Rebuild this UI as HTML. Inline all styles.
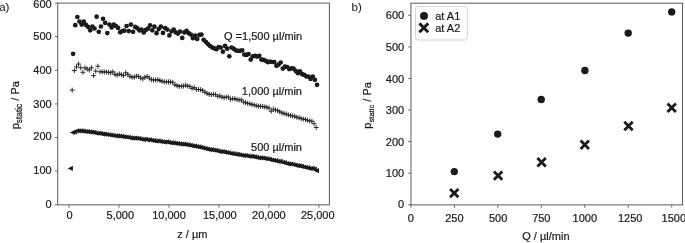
<!DOCTYPE html>
<html><head><meta charset="utf-8"><title>chart</title>
<style>
html,body{margin:0;padding:0;background:#fff;}
body{width:685px;height:243px;overflow:hidden;position:relative;font-family:"Liberation Sans",sans-serif;}
</style></head><body>
<svg width="685" height="243" viewBox="0 0 685 243" style="position:absolute;left:0;top:0;will-change:transform">
<rect x="0" y="0" width="685" height="243" fill="#ffffff"/>
<style>text{stroke:#1c1c1c;stroke-width:0.22px;}</style>
<g font-family="Liberation Sans, sans-serif" font-size="11px" fill="#1c1c1c">
<rect x="57.7" y="3.1" width="271.70" height="201.75" fill="none" stroke="#5a5a5a" stroke-width="1"/>
<line x1="54.90" x2="57.7" y1="204.75" y2="204.75" stroke="#5a5a5a" stroke-width="0.9"/>
<text x="51.70" y="208.10" text-anchor="end">0</text>
<line x1="54.90" x2="57.7" y1="171.13" y2="171.13" stroke="#5a5a5a" stroke-width="0.9"/>
<text x="51.70" y="174.48" text-anchor="end">100</text>
<line x1="54.90" x2="57.7" y1="137.51" y2="137.51" stroke="#5a5a5a" stroke-width="0.9"/>
<text x="51.70" y="140.16" text-anchor="end">200</text>
<line x1="54.90" x2="57.7" y1="103.89" y2="103.89" stroke="#5a5a5a" stroke-width="0.9"/>
<text x="51.70" y="108.04" text-anchor="end">300</text>
<line x1="54.90" x2="57.7" y1="70.27" y2="70.27" stroke="#5a5a5a" stroke-width="0.9"/>
<text x="51.70" y="73.62" text-anchor="end">400</text>
<line x1="54.90" x2="57.7" y1="36.65" y2="36.65" stroke="#5a5a5a" stroke-width="0.9"/>
<text x="51.70" y="40.00" text-anchor="end">500</text>
<line x1="54.90" x2="57.7" y1="3.03" y2="3.03" stroke="#5a5a5a" stroke-width="0.9"/>
<text x="51.70" y="8.18" text-anchor="end">600</text>
<line x1="69.05" x2="69.05" y1="204.85" y2="207.65" stroke="#5a5a5a" stroke-width="0.9"/>
<text x="69.45" y="219.2" text-anchor="middle">0</text>
<line x1="119.01" x2="119.01" y1="204.85" y2="207.65" stroke="#5a5a5a" stroke-width="0.9"/>
<text x="120.31" y="219.2" text-anchor="middle">5,000</text>
<line x1="168.97" x2="168.97" y1="204.85" y2="207.65" stroke="#5a5a5a" stroke-width="0.9"/>
<text x="168.97" y="219.2" text-anchor="middle">10,000</text>
<line x1="218.93" x2="218.93" y1="204.85" y2="207.65" stroke="#5a5a5a" stroke-width="0.9"/>
<text x="219.83" y="219.2" text-anchor="middle">15,000</text>
<line x1="268.89" x2="268.89" y1="204.85" y2="207.65" stroke="#5a5a5a" stroke-width="0.9"/>
<text x="268.89" y="219.2" text-anchor="middle">20,000</text>
<line x1="318.85" x2="318.85" y1="204.85" y2="207.65" stroke="#5a5a5a" stroke-width="0.9"/>
<text x="317.75" y="219.2" text-anchor="middle">25,000</text>
<text x="192.4" y="237.6" text-anchor="middle">z / µm</text>
<text transform="translate(19.3,105.2) rotate(-90)" text-anchor="middle">p<tspan font-size="8.3px" dy="2.7">static</tspan><tspan dy="-2.7"> / Pa</tspan></text>
<text x="-0.8" y="10.9" font-size="11.5px" style="stroke-width:0.08px">a)</text>
<text x="302.2" y="39.5" text-anchor="end">Q =1,500 µl/min</text>
<text x="302.0" y="94.6" text-anchor="end">1,000 µl/min</text>
<text x="302.0" y="150.6" text-anchor="end">500 µl/min</text>
<g fill="#1a1a1a">
<path d="M67.70 168.40L72.90 165.80L72.90 171.00Z"/>
<path d="M69.84 132.49L75.04 129.89L75.04 135.09Z"/>
<path d="M71.98 131.83L77.18 129.23L77.18 134.43Z"/>
<path d="M74.12 130.80L79.32 128.20L79.32 133.40Z"/>
<path d="M76.26 130.85L81.46 128.25L81.46 133.45Z"/>
<path d="M78.40 130.88L83.60 128.28L83.60 133.48Z"/>
<path d="M80.54 131.19L85.74 128.59L85.74 133.79Z"/>
<path d="M82.68 131.52L87.88 128.92L87.88 134.12Z"/>
<path d="M84.82 131.71L90.02 129.11L90.02 134.31Z"/>
<path d="M86.96 131.91L92.16 129.31L92.16 134.51Z"/>
<path d="M89.10 132.17L94.30 129.57L94.30 134.77Z"/>
<path d="M91.24 132.43L96.44 129.83L96.44 135.03Z"/>
<path d="M93.38 133.08L98.58 130.48L98.58 135.68Z"/>
<path d="M95.52 133.25L100.72 130.65L100.72 135.85Z"/>
<path d="M97.66 133.42L102.86 130.82L102.86 136.02Z"/>
<path d="M99.80 134.10L105.00 131.50L105.00 136.70Z"/>
<path d="M101.94 134.12L107.14 131.52L107.14 136.72Z"/>
<path d="M104.08 134.50L109.28 131.90L109.28 137.10Z"/>
<path d="M106.22 134.76L111.42 132.16L111.42 137.36Z"/>
<path d="M108.36 135.22L113.56 132.62L113.56 137.82Z"/>
<path d="M110.50 135.49L115.70 132.89L115.70 138.09Z"/>
<path d="M112.64 135.78L117.84 133.18L117.84 138.38Z"/>
<path d="M114.78 135.90L119.98 133.30L119.98 138.50Z"/>
<path d="M116.92 136.20L122.12 133.60L122.12 138.80Z"/>
<path d="M119.06 136.47L124.26 133.87L124.26 139.07Z"/>
<path d="M121.20 136.80L126.40 134.20L126.40 139.40Z"/>
<path d="M123.34 136.99L128.54 134.39L128.54 139.59Z"/>
<path d="M125.48 137.26L130.68 134.66L130.68 139.86Z"/>
<path d="M127.62 137.92L132.82 135.32L132.82 140.52Z"/>
<path d="M129.76 138.18L134.96 135.58L134.96 140.78Z"/>
<path d="M131.90 138.05L137.10 135.45L137.10 140.65Z"/>
<path d="M134.04 138.23L139.24 135.63L139.24 140.83Z"/>
<path d="M136.18 138.58L141.38 135.98L141.38 141.18Z"/>
<path d="M138.32 139.08L143.52 136.48L143.52 141.68Z"/>
<path d="M140.46 139.38L145.66 136.78L145.66 141.98Z"/>
<path d="M142.60 139.26L147.80 136.66L147.80 141.86Z"/>
<path d="M144.74 139.79L149.94 137.19L149.94 142.39Z"/>
<path d="M146.88 139.76L152.08 137.16L152.08 142.36Z"/>
<path d="M149.02 140.28L154.22 137.68L154.22 142.88Z"/>
<path d="M151.16 140.61L156.36 138.01L156.36 143.21Z"/>
<path d="M153.30 141.04L158.50 138.44L158.50 143.64Z"/>
<path d="M155.44 140.94L160.64 138.34L160.64 143.54Z"/>
<path d="M157.58 141.47L162.78 138.87L162.78 144.07Z"/>
<path d="M159.72 141.76L164.92 139.16L164.92 144.36Z"/>
<path d="M161.86 142.06L167.06 139.46L167.06 144.66Z"/>
<path d="M164.00 141.87L169.20 139.27L169.20 144.47Z"/>
<path d="M166.14 142.38L171.34 139.78L171.34 144.98Z"/>
<path d="M168.28 142.91L173.48 140.31L173.48 145.51Z"/>
<path d="M170.42 142.89L175.62 140.29L175.62 145.49Z"/>
<path d="M172.56 143.37L177.76 140.77L177.76 145.97Z"/>
<path d="M174.70 143.51L179.90 140.91L179.90 146.11Z"/>
<path d="M176.84 143.89L182.04 141.29L182.04 146.49Z"/>
<path d="M178.98 144.07L184.18 141.47L184.18 146.67Z"/>
<path d="M181.12 144.17L186.32 141.57L186.32 146.77Z"/>
<path d="M183.26 144.53L188.46 141.93L188.46 147.13Z"/>
<path d="M185.40 144.87L190.60 142.27L190.60 147.47Z"/>
<path d="M187.54 145.26L192.74 142.66L192.74 147.86Z"/>
<path d="M189.68 145.95L194.88 143.35L194.88 148.55Z"/>
<path d="M191.82 146.11L197.02 143.51L197.02 148.71Z"/>
<path d="M193.96 146.57L199.16 143.97L199.16 149.17Z"/>
<path d="M196.10 146.90L201.30 144.30L201.30 149.50Z"/>
<path d="M198.24 147.42L203.44 144.82L203.44 150.02Z"/>
<path d="M200.38 148.02L205.58 145.42L205.58 150.62Z"/>
<path d="M202.52 148.59L207.72 145.99L207.72 151.19Z"/>
<path d="M204.66 149.10L209.86 146.50L209.86 151.70Z"/>
<path d="M206.80 149.57L212.00 146.97L212.00 152.17Z"/>
<path d="M208.94 149.63L214.14 147.03L214.14 152.23Z"/>
<path d="M211.08 150.16L216.28 147.56L216.28 152.76Z"/>
<path d="M213.22 150.39L218.42 147.79L218.42 152.99Z"/>
<path d="M215.36 151.04L220.56 148.44L220.56 153.64Z"/>
<path d="M217.50 151.56L222.70 148.96L222.70 154.16Z"/>
<path d="M219.64 151.58L224.84 148.98L224.84 154.18Z"/>
<path d="M221.78 152.04L226.98 149.44L226.98 154.64Z"/>
<path d="M223.92 152.52L229.12 149.92L229.12 155.12Z"/>
<path d="M226.06 152.85L231.26 150.25L231.26 155.45Z"/>
<path d="M228.20 153.51L233.40 150.91L233.40 156.11Z"/>
<path d="M230.34 153.68L235.54 151.08L235.54 156.28Z"/>
<path d="M232.48 154.15L237.68 151.55L237.68 156.75Z"/>
<path d="M234.62 154.40L239.82 151.80L239.82 157.00Z"/>
<path d="M236.76 154.77L241.96 152.17L241.96 157.37Z"/>
<path d="M238.90 155.27L244.10 152.67L244.10 157.87Z"/>
<path d="M241.04 155.60L246.24 153.00L246.24 158.20Z"/>
<path d="M243.18 155.51L248.38 152.91L248.38 158.11Z"/>
<path d="M245.32 156.20L250.52 153.60L250.52 158.80Z"/>
<path d="M247.46 156.27L252.66 153.67L252.66 158.87Z"/>
<path d="M249.60 156.46L254.80 153.86L254.80 159.06Z"/>
<path d="M251.74 156.91L256.94 154.31L256.94 159.51Z"/>
<path d="M253.88 157.29L259.08 154.69L259.08 159.89Z"/>
<path d="M256.02 157.83L261.22 155.23L261.22 160.43Z"/>
<path d="M258.16 157.85L263.36 155.25L263.36 160.45Z"/>
<path d="M260.30 157.98L265.50 155.38L265.50 160.58Z"/>
<path d="M262.44 158.72L267.64 156.12L267.64 161.32Z"/>
<path d="M264.58 158.75L269.78 156.15L269.78 161.35Z"/>
<path d="M266.72 159.38L271.92 156.78L271.92 161.98Z"/>
<path d="M268.86 160.02L274.06 157.42L274.06 162.62Z"/>
<path d="M271.00 160.31L276.20 157.71L276.20 162.91Z"/>
<path d="M273.14 160.72L278.34 158.12L278.34 163.32Z"/>
<path d="M275.28 161.35L280.48 158.75L280.48 163.95Z"/>
<path d="M277.42 161.42L282.62 158.82L282.62 164.02Z"/>
<path d="M279.56 162.23L284.76 159.63L284.76 164.83Z"/>
<path d="M281.70 162.69L286.90 160.09L286.90 165.29Z"/>
<path d="M283.84 163.52L289.04 160.92L289.04 166.12Z"/>
<path d="M285.98 163.94L291.18 161.34L291.18 166.54Z"/>
<path d="M288.12 163.99L293.32 161.39L293.32 166.59Z"/>
<path d="M290.26 164.49L295.46 161.89L295.46 167.09Z"/>
<path d="M292.40 165.05L297.60 162.45L297.60 167.65Z"/>
<path d="M294.54 165.60L299.74 163.00L299.74 168.20Z"/>
<path d="M296.68 165.84L301.88 163.24L301.88 168.44Z"/>
<path d="M298.82 166.28L304.02 163.68L304.02 168.88Z"/>
<path d="M300.96 166.99L306.16 164.39L306.16 169.59Z"/>
<path d="M303.10 167.52L308.30 164.92L308.30 170.12Z"/>
<path d="M305.24 167.81L310.44 165.21L310.44 170.41Z"/>
<path d="M307.38 168.62L312.58 166.02L312.58 171.22Z"/>
<path d="M309.52 168.31L314.72 165.71L314.72 170.91Z"/>
<path d="M311.66 169.15L316.86 166.55L316.86 171.75Z"/>
<path d="M313.80 170.64L319.00 168.04L319.00 173.24Z"/>
</g>
<g stroke="#1a1a1a" stroke-width="0.9" fill="none">
<path d="M69.70 90.10H74.70M72.20 87.60V92.60"/>
<path d="M71.84 70.60H76.84M74.34 68.10V73.10"/>
<path d="M73.98 66.90H78.98M76.48 64.40V69.40"/>
<path d="M76.12 64.05H81.12M78.62 61.55V66.55"/>
<path d="M78.26 67.80H83.26M80.76 65.30V70.30"/>
<path d="M80.40 72.30H85.40M82.90 69.80V74.80"/>
<path d="M82.54 67.80H87.54M85.04 65.30V70.30"/>
<path d="M84.68 69.00H89.68M87.18 66.50V71.50"/>
<path d="M86.82 70.10H91.82M89.32 67.60V72.60"/>
<path d="M88.96 67.80H93.96M91.46 65.30V70.30"/>
<path d="M91.10 75.60H96.10M93.60 73.10V78.10"/>
<path d="M93.24 71.10H98.24M95.74 68.60V73.60"/>
<path d="M95.38 66.20H100.38M97.88 63.70V68.70"/>
<path d="M97.52 71.80H102.52M100.02 69.30V74.30"/>
<path d="M99.66 71.80H104.66M102.16 69.30V74.30"/>
<path d="M101.80 72.00H106.80M104.30 69.50V74.50"/>
<path d="M103.94 72.00H108.94M106.44 69.50V74.50"/>
<path d="M106.08 72.30H111.08M108.58 69.80V74.80"/>
<path d="M108.22 72.80H113.22M110.72 70.30V75.30"/>
<path d="M110.36 71.80H115.36M112.86 69.30V74.30"/>
<path d="M112.50 74.40H117.50M115.00 71.90V76.90"/>
<path d="M114.64 75.10H119.64M117.14 72.60V77.60"/>
<path d="M116.78 73.90H121.78M119.28 71.40V76.40"/>
<path d="M118.92 74.75H123.92M121.42 72.25V77.25"/>
<path d="M121.06 75.60H126.06M123.56 73.10V78.10"/>
<path d="M123.20 72.80H128.20M125.70 70.30V75.30"/>
<path d="M125.34 74.40H130.34M127.84 71.90V76.90"/>
<path d="M127.48 76.40H132.48M129.98 73.90V78.90"/>
<path d="M129.62 77.20H134.62M132.12 74.70V79.70"/>
<path d="M131.76 77.20H136.76M134.26 74.70V79.70"/>
<path d="M133.90 76.10H138.90M136.40 73.60V78.60"/>
<path d="M136.04 76.40H141.04M138.54 73.90V78.90"/>
<path d="M138.18 78.00H143.18M140.68 75.50V80.50"/>
<path d="M140.32 78.90H145.32M142.82 76.40V81.40"/>
<path d="M142.46 77.20H147.46M144.96 74.70V79.70"/>
<path d="M144.60 76.40H149.60M147.10 73.90V78.90"/>
<path d="M146.74 78.00H151.74M149.24 75.50V80.50"/>
<path d="M148.88 79.70H153.88M151.38 77.20V82.20"/>
<path d="M151.02 80.00H156.02M153.52 77.50V82.50"/>
<path d="M153.16 80.00H158.16M155.66 77.50V82.50"/>
<path d="M155.30 79.70H160.30M157.80 77.20V82.20"/>
<path d="M157.44 80.50H162.44M159.94 78.00V83.00"/>
<path d="M159.58 81.30H164.58M162.08 78.80V83.80"/>
<path d="M161.72 81.80H166.72M164.22 79.30V84.30"/>
<path d="M163.86 81.90H168.86M166.36 79.40V84.40"/>
<path d="M166.00 81.90H171.00M168.50 79.40V84.40"/>
<path d="M168.14 81.95H173.14M170.64 79.45V84.45"/>
<path d="M170.28 82.30H175.28M172.78 79.80V84.80"/>
<path d="M172.42 84.75H177.42M174.92 82.25V87.25"/>
<path d="M174.56 85.60H179.56M177.06 83.10V88.10"/>
<path d="M176.70 86.40H181.70M179.20 83.90V88.90"/>
<path d="M178.84 86.10H183.84M181.34 83.60V88.60"/>
<path d="M180.98 86.10H185.98M183.48 83.60V88.60"/>
<path d="M183.12 85.10H188.12M185.62 82.60V87.60"/>
<path d="M185.26 86.10H190.26M187.76 83.60V88.60"/>
<path d="M187.40 86.40H192.40M189.90 83.90V88.90"/>
<path d="M189.54 88.40H194.54M192.04 85.90V90.90"/>
<path d="M191.68 87.70H196.68M194.18 85.20V90.20"/>
<path d="M193.82 89.40H198.82M196.32 86.90V91.90"/>
<path d="M195.96 89.40H200.96M198.46 86.90V91.90"/>
<path d="M198.10 89.70H203.10M200.60 87.20V92.20"/>
<path d="M200.24 90.50H205.24M202.74 88.00V93.00"/>
<path d="M202.38 92.20H207.38M204.88 89.70V94.70"/>
<path d="M204.52 93.30H209.52M207.02 90.80V95.80"/>
<path d="M206.66 94.30H211.66M209.16 91.80V96.80"/>
<path d="M208.80 94.60H213.80M211.30 92.10V97.10"/>
<path d="M210.94 94.30H215.94M213.44 91.80V96.80"/>
<path d="M213.08 94.60H218.08M215.58 92.10V97.10"/>
<path d="M215.22 96.30H220.22M217.72 93.80V98.80"/>
<path d="M217.36 95.90H222.36M219.86 93.40V98.40"/>
<path d="M219.50 97.10H224.50M222.00 94.60V99.60"/>
<path d="M221.64 97.60H226.64M224.14 95.10V100.10"/>
<path d="M223.78 97.10H228.78M226.28 94.60V99.60"/>
<path d="M225.92 97.10H230.92M228.42 94.60V99.60"/>
<path d="M228.06 99.20H233.06M230.56 96.70V101.70"/>
<path d="M230.20 98.70H235.20M232.70 96.20V101.20"/>
<path d="M232.34 98.70H237.34M234.84 96.20V101.20"/>
<path d="M234.48 99.60H239.48M236.98 97.10V102.10"/>
<path d="M236.62 99.90H241.62M239.12 97.40V102.40"/>
<path d="M238.76 99.90H243.76M241.26 97.40V102.40"/>
<path d="M240.90 102.00H245.90M243.40 99.50V104.50"/>
<path d="M243.04 102.67H248.04M245.54 100.17V105.17"/>
<path d="M245.18 103.42H250.18M247.68 100.92V105.92"/>
<path d="M247.32 103.71H252.32M249.82 101.21V106.21"/>
<path d="M249.46 104.50H254.46M251.96 102.00V107.00"/>
<path d="M251.60 104.96H256.60M254.10 102.46V107.46"/>
<path d="M253.74 105.71H258.74M256.24 103.21V108.21"/>
<path d="M255.88 106.17H260.88M258.38 103.67V108.67"/>
<path d="M258.02 106.30H263.02M260.52 103.80V108.80"/>
<path d="M260.16 106.45H265.16M262.66 103.95V108.95"/>
<path d="M262.30 106.97H267.30M264.80 104.47V109.47"/>
<path d="M264.44 107.29H269.44M266.94 104.79V109.79"/>
<path d="M266.58 108.10H271.58M269.08 105.60V110.60"/>
<path d="M268.72 111.20H273.72M271.22 108.70V113.70"/>
<path d="M270.86 109.20H275.86M273.36 106.70V111.70"/>
<path d="M273.00 110.03H278.00M275.50 107.53V112.53"/>
<path d="M275.14 110.58H280.14M277.64 108.08V113.08"/>
<path d="M277.28 111.81H282.28M279.78 109.31V114.31"/>
<path d="M279.42 112.84H284.42M281.92 110.34V115.34"/>
<path d="M281.56 113.60H286.56M284.06 111.10V116.10"/>
<path d="M283.70 114.02H288.70M286.20 111.52V116.52"/>
<path d="M285.84 114.94H290.84M288.34 112.44V117.44"/>
<path d="M287.98 115.47H292.98M290.48 112.97V117.97"/>
<path d="M290.12 116.00H295.12M292.62 113.50V118.50"/>
<path d="M292.26 116.27H297.26M294.76 113.77V118.77"/>
<path d="M294.40 117.35H299.40M296.90 114.85V119.85"/>
<path d="M296.54 117.76H301.54M299.04 115.26V120.26"/>
<path d="M298.68 118.60H303.68M301.18 116.10V121.10"/>
<path d="M300.82 119.10H305.82M303.32 116.60V121.60"/>
<path d="M302.96 119.56H307.96M305.46 117.06V122.06"/>
<path d="M305.10 120.30H310.10M307.60 117.80V122.80"/>
<path d="M307.24 120.90H312.24M309.74 118.40V123.40"/>
<path d="M309.38 121.20H314.38M311.88 118.70V123.70"/>
<path d="M311.52 123.70H316.52M314.02 121.20V126.20"/>
<path d="M313.66 127.50H318.66M316.16 125.00V130.00"/>
</g>
<g fill="#1a1a1a">
<circle cx="73.10" cy="53.80" r="2.35"/>
<circle cx="75.24" cy="25.20" r="2.35"/>
<circle cx="77.38" cy="17.00" r="2.35"/>
<circle cx="79.52" cy="21.60" r="2.35"/>
<circle cx="81.66" cy="24.60" r="2.35"/>
<circle cx="83.80" cy="21.60" r="2.35"/>
<circle cx="85.94" cy="24.90" r="2.35"/>
<circle cx="88.08" cy="26.90" r="2.35"/>
<circle cx="90.22" cy="30.30" r="2.35"/>
<circle cx="92.36" cy="26.50" r="2.35"/>
<circle cx="94.50" cy="28.50" r="2.35"/>
<circle cx="96.64" cy="16.70" r="2.35"/>
<circle cx="98.78" cy="31.80" r="2.35"/>
<circle cx="100.92" cy="26.50" r="2.35"/>
<circle cx="103.06" cy="18.80" r="2.35"/>
<circle cx="105.20" cy="22.90" r="2.35"/>
<circle cx="107.34" cy="33.10" r="2.35"/>
<circle cx="109.48" cy="24.60" r="2.35"/>
<circle cx="111.62" cy="27.40" r="2.35"/>
<circle cx="113.76" cy="24.60" r="2.35"/>
<circle cx="115.90" cy="26.00" r="2.35"/>
<circle cx="118.04" cy="27.90" r="2.35"/>
<circle cx="120.18" cy="32.30" r="2.35"/>
<circle cx="122.32" cy="31.10" r="2.35"/>
<circle cx="124.46" cy="30.70" r="2.35"/>
<circle cx="126.60" cy="26.00" r="2.35"/>
<circle cx="128.74" cy="31.10" r="2.35"/>
<circle cx="130.88" cy="24.60" r="2.35"/>
<circle cx="133.02" cy="31.80" r="2.35"/>
<circle cx="135.16" cy="26.90" r="2.35"/>
<circle cx="137.30" cy="28.20" r="2.35"/>
<circle cx="139.44" cy="30.50" r="2.35"/>
<circle cx="141.58" cy="29.60" r="2.35"/>
<circle cx="143.72" cy="32.40" r="2.35"/>
<circle cx="145.86" cy="29.95" r="2.35"/>
<circle cx="148.00" cy="28.60" r="2.35"/>
<circle cx="150.14" cy="25.30" r="2.35"/>
<circle cx="152.28" cy="30.30" r="2.35"/>
<circle cx="154.42" cy="26.70" r="2.35"/>
<circle cx="156.56" cy="33.20" r="2.35"/>
<circle cx="158.70" cy="29.10" r="2.35"/>
<circle cx="160.84" cy="26.70" r="2.35"/>
<circle cx="162.98" cy="32.90" r="2.35"/>
<circle cx="165.12" cy="28.00" r="2.35"/>
<circle cx="167.26" cy="29.60" r="2.35"/>
<circle cx="169.40" cy="35.40" r="2.35"/>
<circle cx="171.54" cy="31.30" r="2.35"/>
<circle cx="173.68" cy="29.60" r="2.35"/>
<circle cx="175.82" cy="32.40" r="2.35"/>
<circle cx="177.96" cy="33.60" r="2.35"/>
<circle cx="180.10" cy="31.60" r="2.35"/>
<circle cx="182.24" cy="37.90" r="2.35"/>
<circle cx="184.38" cy="32.40" r="2.35"/>
<circle cx="186.52" cy="30.80" r="2.35"/>
<circle cx="188.66" cy="33.20" r="2.35"/>
<circle cx="190.80" cy="34.60" r="2.35"/>
<circle cx="192.94" cy="38.20" r="2.35"/>
<circle cx="195.08" cy="35.70" r="2.35"/>
<circle cx="197.22" cy="39.00" r="2.35"/>
<circle cx="199.36" cy="34.90" r="2.35"/>
<circle cx="201.50" cy="34.60" r="2.35"/>
<circle cx="203.64" cy="39.80" r="2.35"/>
<circle cx="205.78" cy="41.80" r="2.35"/>
<circle cx="207.92" cy="44.10" r="2.35"/>
<circle cx="210.06" cy="46.00" r="2.35"/>
<circle cx="212.20" cy="47.40" r="2.35"/>
<circle cx="214.34" cy="48.40" r="2.35"/>
<circle cx="216.48" cy="49.20" r="2.35"/>
<circle cx="218.62" cy="47.10" r="2.35"/>
<circle cx="220.76" cy="47.50" r="2.35"/>
<circle cx="222.90" cy="51.70" r="2.35"/>
<circle cx="225.04" cy="45.90" r="2.35"/>
<circle cx="227.18" cy="48.70" r="2.35"/>
<circle cx="229.32" cy="56.30" r="2.35"/>
<circle cx="231.46" cy="47.50" r="2.35"/>
<circle cx="233.60" cy="48.70" r="2.35"/>
<circle cx="235.74" cy="50.30" r="2.35"/>
<circle cx="237.88" cy="50.80" r="2.35"/>
<circle cx="240.02" cy="50.80" r="2.35"/>
<circle cx="242.16" cy="50.30" r="2.35"/>
<circle cx="244.30" cy="54.60" r="2.35"/>
<circle cx="246.44" cy="54.95" r="2.35"/>
<circle cx="248.58" cy="54.10" r="2.35"/>
<circle cx="250.72" cy="59.60" r="2.35"/>
<circle cx="252.86" cy="56.30" r="2.35"/>
<circle cx="255.00" cy="55.80" r="2.35"/>
<circle cx="257.14" cy="56.60" r="2.35"/>
<circle cx="259.28" cy="55.80" r="2.35"/>
<circle cx="261.42" cy="59.60" r="2.35"/>
<circle cx="263.56" cy="59.90" r="2.35"/>
<circle cx="265.70" cy="60.80" r="2.35"/>
<circle cx="267.84" cy="62.20" r="2.35"/>
<circle cx="269.98" cy="61.60" r="2.35"/>
<circle cx="272.12" cy="62.00" r="2.35"/>
<circle cx="274.26" cy="62.05" r="2.35"/>
<circle cx="276.40" cy="65.80" r="2.35"/>
<circle cx="278.54" cy="64.70" r="2.35"/>
<circle cx="280.68" cy="62.50" r="2.35"/>
<circle cx="282.82" cy="68.60" r="2.35"/>
<circle cx="284.96" cy="66.70" r="2.35"/>
<circle cx="287.10" cy="67.00" r="2.35"/>
<circle cx="289.24" cy="69.10" r="2.35"/>
<circle cx="291.38" cy="68.30" r="2.35"/>
<circle cx="293.52" cy="68.60" r="2.35"/>
<circle cx="295.66" cy="70.80" r="2.35"/>
<circle cx="297.80" cy="73.20" r="2.35"/>
<circle cx="299.94" cy="71.30" r="2.35"/>
<circle cx="302.08" cy="74.10" r="2.35"/>
<circle cx="304.22" cy="74.90" r="2.35"/>
<circle cx="306.36" cy="76.50" r="2.35"/>
<circle cx="308.50" cy="76.50" r="2.35"/>
<circle cx="310.64" cy="79.00" r="2.35"/>
<circle cx="312.78" cy="76.50" r="2.35"/>
<circle cx="314.92" cy="79.80" r="2.35"/>
<circle cx="317.06" cy="84.80" r="2.35"/>
</g>
<rect x="410.95" y="3.2" width="271.55" height="201.70" fill="none" stroke="#5a5a5a" stroke-width="1"/>
<line x1="408.15" x2="410.95" y1="204.75" y2="204.75" stroke="#5a5a5a" stroke-width="0.9"/>
<text x="404.15" y="207.70" text-anchor="end">0</text>
<line x1="408.15" x2="410.95" y1="173.18" y2="173.18" stroke="#5a5a5a" stroke-width="0.9"/>
<text x="404.15" y="177.28" text-anchor="end">100</text>
<line x1="408.15" x2="410.95" y1="141.60" y2="141.60" stroke="#5a5a5a" stroke-width="0.9"/>
<text x="404.15" y="145.70" text-anchor="end">200</text>
<line x1="408.15" x2="410.95" y1="110.03" y2="110.03" stroke="#5a5a5a" stroke-width="0.9"/>
<text x="404.15" y="114.12" text-anchor="end">300</text>
<line x1="408.15" x2="410.95" y1="78.45" y2="78.45" stroke="#5a5a5a" stroke-width="0.9"/>
<text x="404.15" y="82.55" text-anchor="end">400</text>
<line x1="408.15" x2="410.95" y1="46.88" y2="46.88" stroke="#5a5a5a" stroke-width="0.9"/>
<text x="404.15" y="50.98" text-anchor="end">500</text>
<line x1="408.15" x2="410.95" y1="15.30" y2="15.30" stroke="#5a5a5a" stroke-width="0.9"/>
<text x="404.15" y="19.40" text-anchor="end">600</text>
<line x1="410.90" x2="410.90" y1="204.9" y2="207.70" stroke="#5a5a5a" stroke-width="0.9"/>
<text x="410.90" y="222.2" text-anchor="middle">0</text>
<line x1="454.37" x2="454.37" y1="204.9" y2="207.70" stroke="#5a5a5a" stroke-width="0.9"/>
<text x="454.37" y="222.2" text-anchor="middle">250</text>
<line x1="497.84" x2="497.84" y1="204.9" y2="207.70" stroke="#5a5a5a" stroke-width="0.9"/>
<text x="498.14" y="222.2" text-anchor="middle">500</text>
<line x1="541.31" x2="541.31" y1="204.9" y2="207.70" stroke="#5a5a5a" stroke-width="0.9"/>
<text x="541.31" y="222.2" text-anchor="middle">750</text>
<line x1="584.78" x2="584.78" y1="204.9" y2="207.70" stroke="#5a5a5a" stroke-width="0.9"/>
<text x="584.78" y="222.2" text-anchor="middle">1000</text>
<line x1="628.25" x2="628.25" y1="204.9" y2="207.70" stroke="#5a5a5a" stroke-width="0.9"/>
<text x="630.15" y="222.2" text-anchor="middle">1250</text>
<line x1="671.72" x2="671.72" y1="204.9" y2="207.70" stroke="#5a5a5a" stroke-width="0.9"/>
<text x="673.82" y="222.2" text-anchor="middle">1500</text>
<text x="545.9" y="240.3" text-anchor="middle">Q / µl/min</text>
<text transform="translate(371.4,105.4) rotate(-90)" text-anchor="middle">p<tspan font-size="7.6px" dy="2.6">static</tspan><tspan dy="-2.6"> / Pa</tspan></text>
<text x="351.6" y="10.9" font-size="11.5px" style="stroke-width:0.08px">b)</text>
<rect x="415.5" y="6.5" width="51.8" height="33.5" rx="2.2" ry="2.2" fill="#ffffff" stroke="#cfcfcf" stroke-width="0.9"/>
<circle cx="424.0" cy="15.9" r="3.95" fill="#1a1a1a"/>
<path d="M419.40 23.40L428.20 32.20M419.40 32.20L428.20 23.40" stroke="#1a1a1a" stroke-width="2.9" fill="none"/>
<text x="435.2" y="19.6">at A1</text>
<text x="435.2" y="32.3">at A2</text>
<circle cx="454.3" cy="171.6" r="3.7" fill="#1a1a1a"/>
<circle cx="497.7" cy="134.1" r="3.7" fill="#1a1a1a"/>
<circle cx="541.2" cy="99.5" r="3.7" fill="#1a1a1a"/>
<circle cx="584.9" cy="70.5" r="3.7" fill="#1a1a1a"/>
<circle cx="628.2" cy="33.1" r="3.7" fill="#1a1a1a"/>
<circle cx="671.7" cy="11.9" r="3.7" fill="#1a1a1a"/>
<path d="M450.00 188.90L458.40 197.30M450.00 197.30L458.40 188.90" stroke="#1a1a1a" stroke-width="2.8" fill="none"/>
<path d="M493.90 171.40L502.30 179.80M493.90 179.80L502.30 171.40" stroke="#1a1a1a" stroke-width="2.8" fill="none"/>
<path d="M537.40 158.00L545.80 166.40M537.40 166.40L545.80 158.00" stroke="#1a1a1a" stroke-width="2.8" fill="none"/>
<path d="M580.60 140.60L589.00 149.00M580.60 149.00L589.00 140.60" stroke="#1a1a1a" stroke-width="2.8" fill="none"/>
<path d="M624.30 121.80L632.70 130.20M624.30 130.20L632.70 121.80" stroke="#1a1a1a" stroke-width="2.8" fill="none"/>
<path d="M667.50 103.60L675.90 112.00M667.50 112.00L675.90 103.60" stroke="#1a1a1a" stroke-width="2.8" fill="none"/>
</g></svg>
</body></html>
